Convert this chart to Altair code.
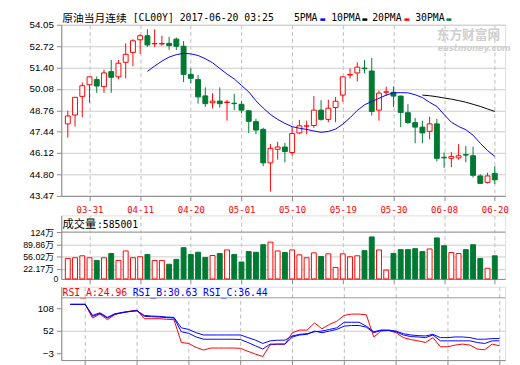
import altair as alt
import pandas as pd

# ---------------- data ----------------
opens = [47.92, 48.47, 49.62, 50.34, 50.66, 50.22, 51.15, 50.83, 51.73, 52.34,
         53.12, 53.37, 52.87, 52.86, 52.90, 53.16, 52.72, 50.98, 50.66, 49.65,
         49.23, 49.33, 49.24, 49.20, 49.13, 48.73, 48.06, 47.58, 45.51, 46.35,
         46.49, 46.15, 47.36, 47.78, 47.82, 48.77, 48.20, 48.93, 49.70, 50.94,
         51.07, 51.37, 51.19, 48.77, 49.88, 49.88, 49.64, 48.61, 48.00, 47.72,
         47.46, 47.92, 45.85, 45.79, 45.82, 46.02, 45.95, 44.70, 44.30, 44.86]
highs = [48.73, 49.58, 50.48, 50.85, 50.85, 51.27, 51.87, 51.87, 52.90, 53.16,
         53.45, 53.77, 53.77, 53.37, 53.31, 53.26, 53.04, 51.35, 50.95, 50.18,
         49.82, 50.18, 49.39, 49.78, 49.33, 48.75, 48.23, 47.68, 46.67, 46.81,
         46.75, 47.76, 48.17, 48.12, 49.64, 49.39, 49.41, 49.58, 50.85, 51.35,
         51.73, 51.86, 51.99, 49.98, 50.22, 50.24, 49.66, 49.13, 48.29, 48.12,
         48.37, 48.23, 46.15, 46.19, 46.67, 46.55, 46.51, 44.80, 44.90, 45.30]
lows = [47.08, 47.76, 48.32, 49.23, 49.84, 49.84, 49.84, 50.68, 50.74, 51.49,
        52.25, 52.68, 52.68, 52.76, 52.50, 52.50, 50.50, 50.44, 49.17, 48.97,
        48.87, 48.93, 48.12, 48.77, 48.57, 47.36, 47.28, 45.30, 43.73, 45.71,
        45.54, 45.95, 47.28, 47.28, 47.68, 48.12, 48.02, 48.02, 49.29, 50.74,
        50.54, 51.05, 48.43, 48.12, 49.64, 48.97, 47.72, 47.92, 46.72, 46.72,
        46.96, 45.60, 45.20, 45.24, 45.71, 45.54, 44.60, 44.24, 44.24, 44.20]
closes = [48.41, 49.56, 50.28, 50.83, 50.26, 51.07, 50.80, 51.67, 52.22, 53.06,
          53.37, 52.80, 52.89, 52.89, 52.76, 52.72, 50.98, 50.74, 49.59, 49.17,
          49.33, 49.17, 49.27, 49.17, 48.77, 48.08, 47.54, 45.51, 46.41, 46.49,
          46.21, 47.32, 47.80, 47.80, 48.77, 48.20, 48.89, 49.32, 50.83, 50.97,
          51.43, 51.33, 48.69, 49.82, 49.90, 49.64, 48.63, 48.00, 47.72, 47.36,
          47.92, 45.79, 45.82, 45.91, 45.95, 45.99, 44.74, 44.24, 44.70, 44.46]
# volume in 万
volumes = [51.2, 53.0, 58.5, 53.0, 45.6, 53.0, 64.8, 45.6, 72.0, 53.0,
           55.8, 62.1, 45.6, 45.6, 34.9, 48.5, 81.1, 62.1, 68.4, 53.9,
           59.3, 64.8, 74.8, 62.1, 41.2, 70.3, 68.4, 89.3, 96.6, 72.0,
           67.6, 74.8, 61.2, 53.0, 66.7, 56.6, 64.0, 25.8, 64.0, 55.8,
           58.5, 72.9, 111.0, 74.8, 18.6, 64.8, 75.7, 75.7, 78.3, 70.3,
           77.5, 108.3, 86.6, 67.6, 64.8, 75.7, 89.3, 51.2, 23.9, 58.5]
# moving average lines (blue starts at candle 11, black at candle 49)
ma_blue_start = 11
ma_blue = [51.17, 51.50, 51.80, 52.05, 52.20, 52.28, 52.25, 52.15, 51.95, 51.70,
           51.35, 51.00, 50.70, 50.30, 49.90, 49.35, 48.90, 48.50, 48.20, 47.95,
           47.75, 47.65, 47.58, 47.48, 47.40, 47.45, 47.60, 47.90, 48.30, 48.75,
           49.10, 49.30, 49.50, 49.70, 49.84, 49.85, 49.84, 49.72, 49.55, 49.25,
           49.00, 48.50, 48.02, 47.76, 47.56, 47.22, 46.72, 46.27, 45.91]
ma_black_start = 49
ma_black = [49.70, 49.66, 49.60, 49.52, 49.45, 49.36, 49.26, 49.13, 49.00, 48.84, 48.69]
# RSI lines (start at candle 1)
rsi_start = 1
rsi_a = [117.9, 117.9, 117.9, 84.1, 93.8, 80.1, 92.2, 97.8, 101.0, 103.4,
         82.5, 82.5, 82.5, 80.9, 80.1, 23.6, 21.2, 11.5, 5.0, 9.9,
         9.9, 9.9, 9.9, 9.1, 1.8, -5.0, -11.1, 17.9, 19.6, 19.6,
         47.8, 54.3, 54.3, 72.0, 57.5, 68.0, 76.0, 90.6, 93.8, 93.8,
         92.2, 37.3, 51.8, 53.5, 47.8, 35.7, 30.9, 27.7, 23.6, 35.7,
         13.1, 13.1, 17.2, 19.6, 17.2, 7.4, 5.8, 19.6, 15.5]
rsi_b = [117.9, 117.9, 117.9, 88.2, 95.4, 84.1, 93.8, 97.0, 100.2, 102.6,
         88.2, 87.4, 86.6, 85.0, 84.1, 50.2, 46.2, 37.3, 31.7, 31.7,
         31.7, 31.7, 31.7, 30.9, 23.6, 15.5, 7.4, 19.6, 19.6, 19.6,
         37.3, 42.2, 43.8, 51.8, 47.8, 51.8, 55.9, 64.0, 65.6, 65.6,
         61.5, 47.8, 53.5, 53.5, 50.2, 42.2, 38.2, 37.3, 35.7, 42.2,
         27.7, 27.7, 27.7, 27.7, 27.7, 23.6, 21.2, 27.7, 27.7]
rsi_c = [117.9, 117.9, 117.9, 90.6, 97.0, 85.8, 94.6, 97.8, 100.2, 101.8,
         90.6, 89.0, 88.2, 86.6, 85.8, 59.9, 55.9, 47.8, 42.2, 42.2,
         42.2, 42.2, 42.2, 42.2, 35.7, 29.7, 21.2, 27.7, 29.3, 29.3,
         39.8, 43.8, 45.4, 50.2, 51.8, 55.9, 59.9, 73.6, 73.6, 73.6,
         64.0, 50.2, 54.3, 54.3, 51.8, 45.4, 42.2, 40.6, 39.8, 43.8,
         35.7, 35.7, 37.3, 37.3, 35.7, 31.7, 31.7, 33.3, 33.3]

date_ticks = [3, 10, 17, 24, 31, 38, 45, 52, 59]
date_labels = ["03-31", "04-11", "04-20", "05-01", "05-10", "05-19", "05-30", "06-08", "06-20"]
price_ticks = [43.47, 44.80, 46.12, 47.44, 48.76, 50.08, 51.40, 52.72, 54.05]
vol_ticks = [22.17, 56.02, 89.86, 124]
vol_tick_labels = ["22.17万", "56.02万", "89.86万", "124万"]
vol_zero_label = "0"
rsi_ticks = [-3, 52, 108]

title_cn = "原油当月连续"
title_rest = "[CL00Y] 2017-06-20 03:25"
ma_names = ["5PMA", "10PMA", "20PMA", "30PMA"]
vol_title = "成交量"
vol_last = ":585001"
rsi_names = ["RSI_A:24.96", "RSI_B:30.63", "RSI_C:36.44"]

# ---------------- styling ----------------
RED = "#ff0000"
GREEN = "#007a33"
BLUE = "#0000ff"
BLACK = "#000000"
W = 454
MONO = "DejaVu Sans Mono"
CJK = "Noto Sans CJK SC"

n = len(opens)
idx = list(range(n))
direction = ["up" if c >= o else "down" for o, c in zip(opens, closes)]
candles = pd.DataFrame({"i": idx, "o": opens, "h": highs, "l": lows, "c": closes,
                        "dir": direction, "vol": volumes})

ma_df = pd.concat([
    pd.DataFrame({"i": list(range(ma_blue_start, ma_blue_start + len(ma_blue))), "v": ma_blue,
                  "s": "blue", "col": BLUE}),
    pd.DataFrame({"i": list(range(ma_black_start, ma_black_start + len(ma_black))), "v": ma_black,
                  "s": "black", "col": BLACK}),
])
rsi_df = pd.concat([
    pd.DataFrame({"i": list(range(rsi_start, rsi_start + len(rsi_a))), "v": rsi_a, "s": "A", "col": RED}),
    pd.DataFrame({"i": list(range(rsi_start, rsi_start + len(rsi_b))), "v": rsi_b, "s": "B", "col": BLUE}),
    pd.DataFrame({"i": list(range(rsi_start, rsi_start + len(rsi_c))), "v": rsi_c, "s": "C", "col": BLUE}),
])

one = pd.DataFrame({"k": [0]})

xs = alt.Scale(domain=[-0.225, 59.76], nice=False, zero=False)
date_expr = ("[" + ",".join(f"'{d}'" for d in date_labels) + "][indexof(["
             + ",".join(str(t) for t in date_ticks) + "], datum.value)]")
vol_expr = ("[" + ",".join(f"'{d}'" for d in vol_tick_labels) + "][indexof(["
            + ",".join(str(t) for t in vol_ticks) + "], datum.value)]")

x_main = alt.X("i:Q", scale=xs, title=None,
               axis=alt.Axis(values=date_ticks, labelExpr=date_expr, grid=True, gridDash=[4, 3],
                             gridColor="#bbbbbb", labelColor=RED, labelFont=MONO, labelFontSize=9.2,
                             labelPadding=5, labelFlush=False, labelOverlap=False))
x_sub = alt.X("i:Q", scale=xs, title=None,
              axis=alt.Axis(values=date_ticks, labels=False, grid=True, gridDash=[4, 3],
                            gridColor="#bbbbbb"))

price_scale = alt.Scale(domain=[43.47, 54.05], nice=False, zero=False)
price_axis = alt.Axis(values=price_ticks, format=".2f", grid=True, gridColor="#cccccc",
                      labelPadding=3, labelOverlap=False)

dir_stroke = alt.Stroke("dir:N", scale=alt.Scale(domain=["up", "down"], range=[RED, GREEN]), legend=None)
dir_fill = alt.Fill("dir:N", scale=alt.Scale(domain=["up", "down"], range=["#ffffff", GREEN]), legend=None)


def txt(text, x, y, font=MONO, size=10, color=BLACK, weight="normal", style="normal",
        align="left", baseline="alphabetic"):
    return alt.Chart(one).mark_text(text=text, align=align, baseline=baseline, font=font,
                                    fontSize=size, color=color, fontWeight=weight,
                                    fontStyle=style).encode(x=alt.value(x), y=alt.value(y))


def swatch(x, color):
    return alt.Chart(one).mark_rect(color=color).encode(
        x=alt.value(x), x2=alt.value(x + 5), y=alt.value(-6.5), y2=alt.value(-4))


# ---------------- main price panel ----------------
wicks = alt.Chart(candles).mark_rule(strokeWidth=1).encode(
    x=x_main, y=alt.Y("l:Q", scale=price_scale, axis=price_axis, title=None), y2="h:Q",
    stroke=dir_stroke)
bodies = alt.Chart(candles).mark_bar(size=5, strokeWidth=1).encode(
    x=x_main, y=alt.Y("o:Q", scale=price_scale, axis=price_axis, title=None), y2="c:Q",
    fill=dir_fill, stroke=dir_stroke)
ma_lines = alt.Chart(ma_df).mark_line(strokeWidth=1).encode(
    x=x_main, y=alt.Y("v:Q", scale=price_scale, axis=price_axis, title=None),
    color=alt.Color("col:N", scale=None), detail="s:N")

watermark = alt.layer(
    txt("东方财富网", 384, 15, font=CJK, size=13, color="#cfcfcf", weight="bold"),
    txt("eastmoney.com", 385, 26.5, font="DejaVu Sans", size=8.5, color="#cfcfcf", weight="bold",
        style="italic"),
)
header = alt.layer(
    txt(title_cn, 1, -3, font=CJK, size=11),
    txt(title_rest, 73, -4),
    txt(ma_names[0], 238, -4), swatch(265, BLUE),
    txt(ma_names[1], 276, -4), swatch(308, BLACK),
    txt(ma_names[2], 318, -4), swatch(351, RED),
    txt(ma_names[3], 362, -4), swatch(394, GREEN),
)

main = alt.layer(watermark, wicks, bodies, ma_lines, header).properties(width=W, height=175)

spacer = alt.Chart(one).mark_point(opacity=0).encode(
    x=alt.X("k:Q", axis=None), y=alt.Y("k:Q", axis=None)
).properties(width=W, height=4, view=alt.ViewBackground(strokeOpacity=0))

# ---------------- volume panel ----------------
vol_min = -6.0
vol_scale = alt.Scale(domain=[vol_min, 171.0], nice=False, zero=False)
vol_axis = alt.Axis(values=vol_ticks, labelExpr=vol_expr, grid=True, gridColor="#cccccc",
                    labelPadding=3, labelFont="Liberation Sans, Noto Sans CJK SC", labelFontSize=9,
                    labelOverlap=False)
vol_bars = alt.Chart(candles).mark_bar(size=5, strokeWidth=1).encode(
    x=x_sub, y=alt.Y("vol:Q", scale=vol_scale, axis=vol_axis, title=None), y2=alt.datum(vol_min),
    fill=dir_fill, stroke=dir_stroke)
vol_sep = alt.Chart(one).mark_rule(color="#999999").encode(
    x=alt.value(0), x2=alt.value(W), y=alt.value(17))
vol_head = alt.layer(
    txt(vol_title, 1.3, 12.5, font=CJK, size=11.5),
    txt(vol_last, 36.5, 12.5),
    txt(vol_zero_label, -3, 65, font="Liberation Sans", size=9, color="#222222",
        align="right", baseline="middle"),
)
vol = alt.layer(vol_bars, vol_sep, vol_head).properties(width=W, height=65)

# ---------------- RSI panel ----------------
rsi_scale = alt.Scale(domain=[-19.9, 161.4], nice=False, zero=False)
rsi_axis = alt.Axis(values=rsi_ticks, format="d", grid=True, gridColor="#cccccc", labelPadding=3,
                    labelOverlap=False,
                    gridOpacity={"condition": {"test": "datum.value == 52", "value": 1}, "value": 0})
rsi_lines = alt.Chart(rsi_df).mark_line(strokeWidth=1).encode(
    x=x_sub, y=alt.Y("v:Q", scale=rsi_scale, axis=rsi_axis, title=None),
    color=alt.Color("col:N", scale=None), detail="s:N")
rsi_sep = alt.Chart(one).mark_rule(color="#999999").encode(
    x=alt.value(0), x2=alt.value(W), y=alt.value(11.3))
rsi_head = alt.layer(
    txt(rsi_names[0], 1.3, 9.3, color=RED),
    txt(rsi_names[1], 73, 9.3, color=BLUE),
    txt(rsi_names[2], 145, 9.3, color=BLUE),
)
rsi = alt.layer(rsi_lines, rsi_sep, rsi_head).properties(width=W, height=75)

chart = alt.vconcat(main, spacer, vol, rsi, spacing=8, bounds="flush").properties(
    padding={"left": 13.5, "top": 0, "right": 0, "bottom": 0}
).configure_view(stroke="#999999", strokeWidth=1).configure_axis(
    labelFont="Liberation Sans", labelFontSize=12, labelColor="#222222",
    domain=False, ticks=False, tickSize=0, title=None
).configure(background="white")

chart.save("out.html", embed_options={"renderer": "svg", "actions": False})
